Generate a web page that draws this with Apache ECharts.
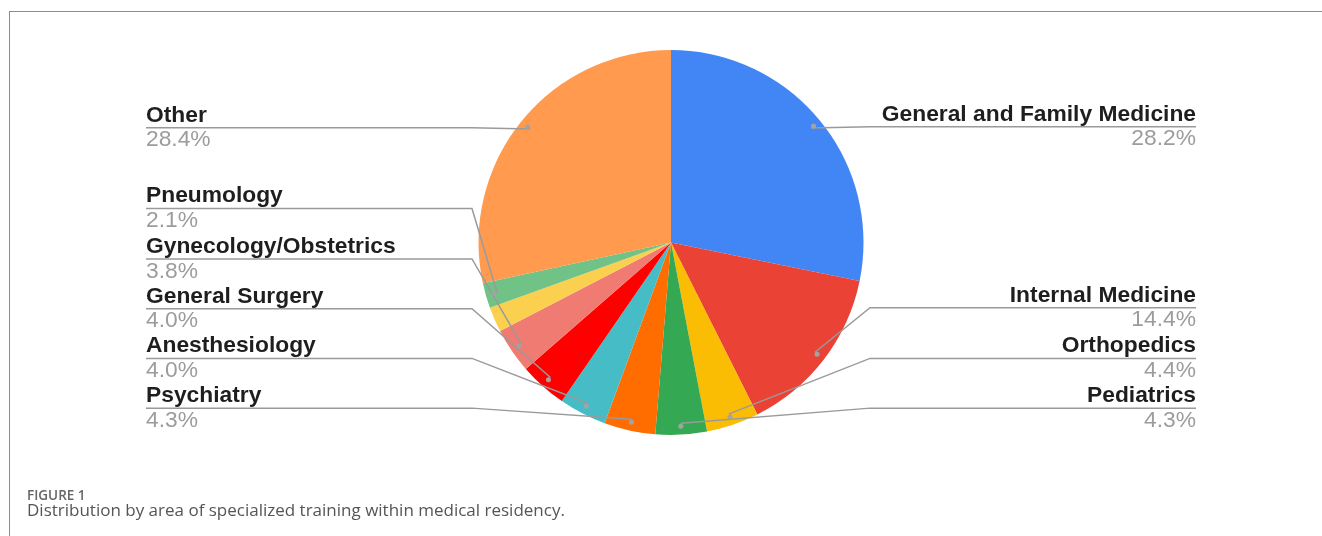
<!DOCTYPE html>
<html><head><meta charset="utf-8">
<script src="https://cdn.jsdelivr.net/npm/echarts@6/dist/echarts.min.js"></script>
<style>
html,body{margin:0;padding:0;background:#fff;overflow:hidden;}
#chart{position:absolute;left:0;top:0;width:1322px;height:536px;}
#frame{position:absolute;left:9px;top:11px;width:1330px;height:540px;border-top:1px solid #8c8c8c;border-left:1px solid #8c8c8c;pointer-events:none;}
</style></head><body>
<div id="chart"></div>
<div id="frame"></div>
<script>
// ---- data ----
const categories = ['General and Family Medicine','Internal Medicine','Orthopedics','Pediatrics','Psychiatry','Anesthesiology','General Surgery','Gynecology/Obstetrics','','Pneumology','Other'];
const values = [28.2, 14.4, 4.4, 4.3, 4.3, 4.0, 4.0, 3.8, 2.1, 2.1, 28.4];
const colors = ['#4285F4','#EA4335','#FBBC04','#34A853','#FF6D01','#46BDC6','#FF0000','#F07B72','#FCD04F','#71C287','#FF9A4F'];
const labelled = [true, true, true, true, true, true, true, true, false, true, true];
const captionTitle = 'FIGURE 1';
const captionText = 'Distribution by area of specialized training within medical residency.';

// ---- layout ----
const W = 1322, H = 536;
const view = { left: 146, right: 126, top: 60, bottom: 103 };
const CX = view.left + (W - view.left - view.right) / 2;
const CY = 242.5;
const viewH = H - view.top - view.bottom;
const center = ['50%', ((CY - view.top) / viewH * 100) + '%'];
const R = 192.5, RL = 181, BEND = 199;
const FONT = '"Liberation Sans", Arial, sans-serif';
const lineColor = '#9a9a9a';

const chart = echarts.init(document.getElementById('chart'), null, { renderer: 'canvas' });

const visibleData = categories.map((c, i) => ({ name: c, value: values[i], itemStyle: { color: colors[i] } }));
const labelData = categories.map((c, i) => ({
  name: c, value: values[i],
  label: { show: labelled[i] },
  labelLine: { show: labelled[i], length: c === 'Internal Medicine' ? 20 : 2 }
}));
const dotData = categories.map((c, i) => ({ name: c, value: values[i], label: { show: labelled[i] } }));

const common = Object.assign({ type: 'pie', center: center, startAngle: 90, clockwise: true, animation: false }, view);

chart.setOption({
  backgroundColor: 'transparent',
  title: [
    { text: captionTitle, left: 27, top: 489, padding: 0,
      textStyle: { fontFamily: '"Open Sans", sans-serif', fontSize: 13.5, fontWeight: 600, color: '#666666' } },
    { text: captionText, left: 27, top: 503, padding: 0,
      textStyle: { fontFamily: '"Open Sans", sans-serif', fontSize: 17, fontWeight: 'normal', color: '#555555' } }
  ],
  series: [
    Object.assign({}, common, {
      name: 'slices', radius: R, z: 1, silent: true,
      label: { show: false }, labelLine: { show: false },
      itemStyle: { borderWidth: 0 },
      data: visibleData
    }),
    Object.assign({}, common, {
      name: 'labels', radius: RL, z: 3, silent: true,
      itemStyle: { color: 'rgba(0,0,0,0)', borderWidth: 0 },
      label: {
        show: true, position: 'outside', alignTo: 'edge', edgeDistance: 0, distanceToLabelLine: 0,
        formatter: p => '{n|' + p.name + '}\n{p|' + p.value.toFixed(1) + '%}',
        rich: {
          n: { fontFamily: FONT, fontWeight: 'bold', fontSize: 22.8, color: '#1e1e1e', lineHeight: 24.75 },
          p: { fontFamily: FONT, fontSize: 22.8, color: '#9c9c9c', lineHeight: 24.75 }
        }
      },
      labelLine: { show: true, length: 2, length2: 0, smooth: false, lineStyle: { color: lineColor, width: 1.5 } },
      labelLayout: function (params) {
        const pts = params.labelLinePoints;
        const rect = params.labelRect;
        if (!pts || pts.length < 3 || !rect) return {};
        const isLeft = pts[2][0] < pts[0][0];
        const bx = isLeft ? CX - BEND : CX + BEND;
        const y = pts[2][1];
        const ex = isLeft ? rect.x : rect.x + rect.width;
        return { labelLinePoints: [pts[0], [bx, y], [ex, y]] };
      },
      data: labelData
    }),
    Object.assign({}, common, {
      name: 'dots', radius: [RL - 4, RL + 4], z: 4, silent: true,
      itemStyle: { color: 'rgba(0,0,0,0)', borderWidth: 0 },
      label: { show: true, position: 'inside', formatter: '{d|}',
        rich: { d: { width: 5, height: 5, borderRadius: 2.5, backgroundColor: '#a3a3a3' } } },
      labelLine: { show: false },
      data: dotData
    })
  ]
});
</script>
</body></html>
